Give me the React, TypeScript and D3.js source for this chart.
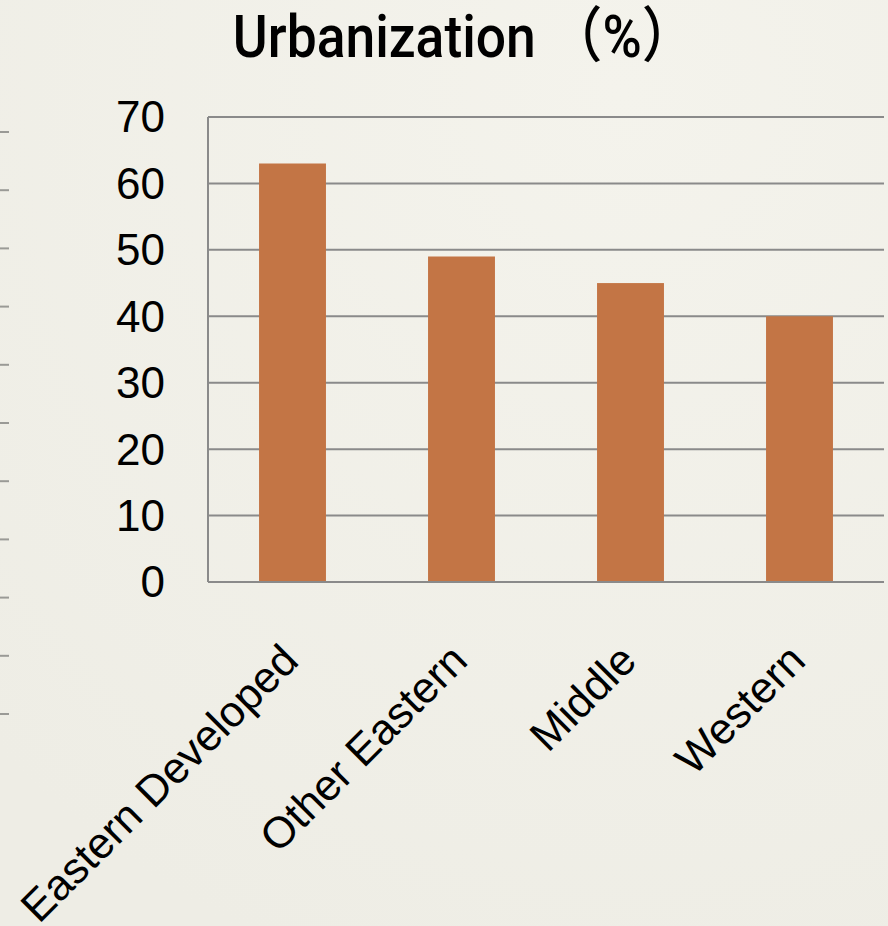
import React from "react";
import * as d3 from "d3";

const categories: string[] = ["Eastern Developed", "Other Eastern", "Middle", "Western"];
const values: number[] = [63, 49, 45, 40];
const yTicks: number[] = [0, 10, 20, 30, 40, 50, 60, 70];
const titleText = "Urbanization （%）";

const W = 888;
const H = 926;
const plot = { left: 208, right: 884, top: 117, bottom: 582 };

export default function App() {
  const x = d3
    .scaleBand<string>()
    .domain(categories)
    .range([plot.left, plot.right])
    .paddingInner(0)
    .paddingOuter(0);
  const y = d3.scaleLinear().domain([0, 70]).range([plot.bottom, plot.top]);
  const barW = x.bandwidth() * 0.396;

  // faint background ghost-axis ticks on the left edge (decorative)
  const ghost = d3.scaleLinear().domain([0, 10]).range([132, 714]);
  const ghostTicks = d3.range(0, 11);

  const font = "'Liberation Sans', Arial, 'Noto Sans CJK SC', sans-serif";

  return (
    <svg
      width={W}
      height={H}
      viewBox={`0 0 ${W} ${H}`}
      style={{ position: "absolute", left: 0, top: 0, display: "block" }}
    >
      <defs>
        <radialGradient id="bg" cx="0.7" cy="0.1" r="1">
          <stop offset="0" stopColor="#f4f3ec" />
          <stop offset="1" stopColor="#eeede5" />
        </radialGradient>
      </defs>
      <rect x={0} y={0} width={W} height={H} fill="url(#bg)" />

      {ghostTicks.map((t) => (
        <line key={"g" + t} x1={0} x2={9} y1={ghost(t)} y2={ghost(t)} stroke="#9a9a96" strokeWidth={2} />
      ))}

      <g transform="translate(464,57) scale(0.89,1)">
        <text
          x={0}
          y={0}
          textAnchor="middle"
          fontFamily="Roboto, 'Liberation Sans', 'Noto Sans CJK SC', sans-serif"
          fontWeight={500}
          fontSize={60}
          fill="#000"
        >
          {titleText}
        </text>
      </g>

      {/* gridlines */}
      {yTicks.map((t) => (
        <line
          key={"grid" + t}
          x1={plot.left}
          x2={plot.right}
          y1={y(t)}
          y2={y(t)}
          stroke="#8a8a8a"
          strokeWidth={2}
        />
      ))}
      {/* y axis line */}
      <line x1={plot.left} x2={plot.left} y1={y(70)} y2={y(0)} stroke="#8a8a8a" strokeWidth={2} />

      {/* y tick labels */}
      {yTicks.map((t) => (
        <text
          key={"yl" + t}
          x={165}
          y={y(t)}
          dy="0.35em"
          textAnchor="end"
          fontFamily={font}
          fontSize={44}
          fill="#000"
        >
          {t}
        </text>
      ))}

      {/* bars */}
      {categories.map((c, i) => {
        const cx = (x(c) as number) + x.bandwidth() / 2;
        return (
          <rect
            key={"b" + c}
            x={cx - barW / 2}
            y={y(values[i])}
            width={barW}
            height={y(0) - y(values[i])}
            fill="#c37545"
          />
        );
      })}

      {/* bottom axis line on top */}
      <line x1={plot.left} x2={plot.right} y1={y(0)} y2={y(0)} stroke="#8a8a8a" strokeWidth={2} />

      {/* x labels */}
      {categories.map((c) => {
        const cx = (x(c) as number) + x.bandwidth() / 2;
        const lx = cx + 8;
        const ly = 663;
        return (
          <text
            key={"xl" + c}
            x={lx}
            y={ly}
            transform={`rotate(-45 ${lx} ${ly})`}
            textAnchor="end"
            fontFamily={font}
            fontSize={43.5}
            fill="#000"
          >
            {c}
          </text>
        );
      })}
    </svg>
  );
}
